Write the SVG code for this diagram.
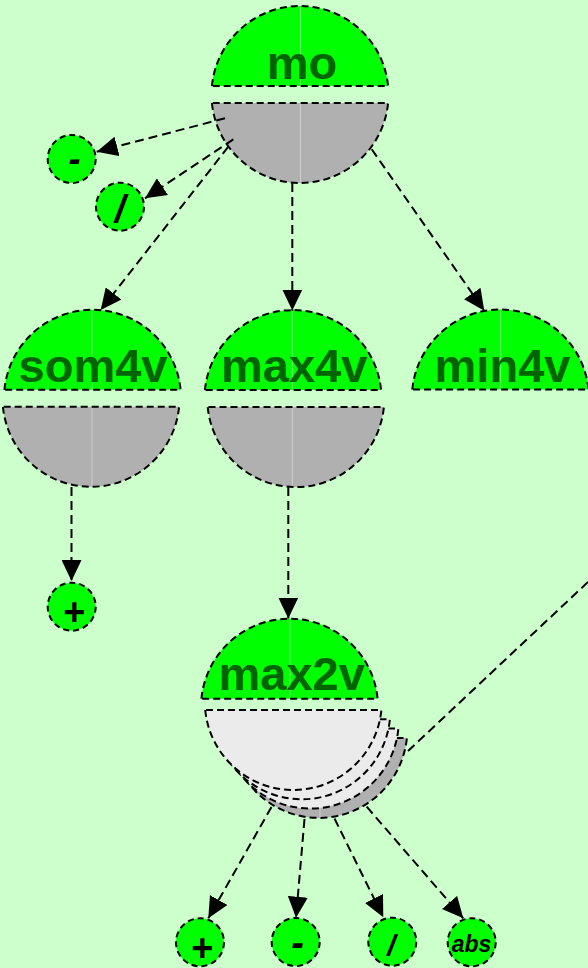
<svg xmlns="http://www.w3.org/2000/svg" width="588" height="968" viewBox="0 0 588 968">
<style>
.top{fill:#00ff00;stroke:#000;stroke-width:2;stroke-dasharray:7,4}
.bot{fill:#b0b0b0;stroke:#000;stroke-width:2;stroke-dasharray:7,4}
.lite{fill:#ebebeb;stroke:#000;stroke-width:2;stroke-dasharray:7,4}
.leaf{fill:#00ff00;stroke:#000;stroke-width:2;stroke-dasharray:6,4}
.seam{stroke:#ffffff;stroke-opacity:0.4;stroke-width:1}
.lbl{font-family:"Liberation Sans",Arial,sans-serif;font-weight:bold;font-size:47px;fill:#006400;text-anchor:middle}
.op{font-family:"Liberation Sans",Arial,sans-serif;font-weight:bold;font-style:italic;fill:#000;text-anchor:middle}
.edge{fill:none;stroke:#000;stroke-width:2;stroke-dasharray:9,5;marker-end:url(#arr)}
.edge2{fill:none;stroke:#000;stroke-width:2;stroke-dasharray:9,5}
</style>
<defs>
<marker id="arr" markerUnits="userSpaceOnUse" markerWidth="21" markerHeight="20" viewBox="0 0 21 20" refX="21" refY="10" orient="auto">
<path d="M0,0 L21,10 L0,20 Z" fill="#000"/>
</marker>
</defs>
<rect width="588" height="968" fill="#ccffcc"/>

<g id="node-mo">
<path class="top" d="M211.91,86 A88.5,88.5 0 0 1 388.09,86 Z"/>
<path class="bot" d="M211.91,103 A88.5,88.5 0 0 0 388.09,103 Z"/>
<line class="seam" x1="300.5" y1="7" x2="300.5" y2="85"/>
<line class="seam" x1="300.5" y1="104" x2="300.5" y2="182"/>
<text class="lbl" x="302" y="79">mo</text>
</g>

<g id="node-som4v">
<path class="top" d="M4.41,389.8 A88.5,88.5 0 0 1 180.59,389.8 Z"/>
<path class="bot" d="M2.91,406.8 A88.5,88.5 0 0 0 179.09,406.8 Z"/>
<line class="seam" x1="92" y1="311" x2="92" y2="389"/>
<line class="seam" x1="92" y1="408" x2="92" y2="486"/>
<text class="lbl" x="93" y="381.7">som4v</text>
</g>

<g id="node-max4v">
<path class="top" d="M204.91,390.1 A88.5,88.5 0 0 1 381.09,390.1 Z"/>
<path class="bot" d="M207.71,407.1 A88.5,88.5 0 0 0 383.89,407.1 Z"/>
<line class="seam" x1="292.3" y1="311" x2="292.3" y2="389"/>
<line class="seam" x1="292.3" y1="408" x2="292.3" y2="486"/>
<text class="lbl" x="294.2" y="381.7">max4v</text>
</g>

<g id="node-min4v">
<path class="top" d="M412.31,389.5 A88.5,88.5 0 0 1 588.49,389.5 Z"/>
<line class="seam" x1="500.7" y1="311" x2="500.7" y2="388.5"/>
<text class="lbl" x="502.5" y="381.7">min4v</text>
</g>

<g id="node-max2v">
<path class="bot" d="M230.71,737.9 A88.5,88.5 0 0 0 406.89,737.9 Z"/>
<line class="seam" x1="320" y1="790" x2="320" y2="817"/>
<path class="lite" d="M222.21,728.6 A88.5,88.5 0 0 0 398.39,728.6 Z"/>
<path class="lite" d="M213.71,719.3 A88.5,88.5 0 0 0 389.89,719.3 Z"/>
<path class="lite" d="M205.21,710 A88.5,88.5 0 0 0 381.39,710 Z"/>
<path class="top" d="M201.41,698.7 A88.5,88.5 0 0 1 377.59,698.7 Z"/>
<line class="seam" x1="290" y1="620" x2="290" y2="697.7"/>
<text class="lbl" x="291.7" y="690">max2v</text>
</g>

<g id="leaf-minus-1">
<circle class="leaf" cx="71.7" cy="159" r="24"/>
<text class="op" x="74.5" y="171" font-size="36">-</text>
</g>
<g id="leaf-div-1">
<circle class="leaf" cx="120" cy="206.7" r="24"/>
<text class="op" x="120" y="221.5" font-size="38">/</text>
</g>
<g id="leaf-plus-1">
<circle class="leaf" cx="71.7" cy="606.7" r="24"/>
<text class="op" x="73.5" y="625" font-size="38">+</text>
</g>
<g id="leaf-plus-2">
<circle class="leaf" cx="200" cy="942.3" r="24"/>
<text class="op" x="201.5" y="960.5" font-size="38">+</text>
</g>
<g id="leaf-minus-2">
<circle class="leaf" cx="295.7" cy="942" r="24"/>
<text class="op" x="297.5" y="956" font-size="38">-</text>
</g>
<g id="leaf-div-2">
<circle class="leaf" cx="392.3" cy="941.7" r="24"/>
<text class="op" x="391.5" y="955.5" font-size="30">/</text>
</g>
<g id="leaf-abs">
<circle class="leaf" cx="471.7" cy="942.3" r="24"/>
<text class="op" x="471.5" y="952" font-size="23">abs</text>
</g>

<g id="connectors">
<line class="edge" x1="225" y1="118.3" x2="96.7" y2="151.7"/>
<line class="edge" x1="233.3" y1="139.3" x2="145" y2="198.3"/>
<line class="edge" x1="228.3" y1="146.7" x2="100.7" y2="310"/>
<line class="edge" x1="292.3" y1="183" x2="292.3" y2="310.5"/>
<line class="edge" x1="371.7" y1="149.3" x2="484.3" y2="310.7"/>
<line class="edge" x1="71.5" y1="487" x2="71.5" y2="581"/>
<line class="edge" x1="288.3" y1="487" x2="288.3" y2="618.5"/>
<line class="edge2" x1="588" y1="582" x2="408" y2="751"/>
<line class="edge" x1="271.5" y1="807" x2="208.3" y2="918.3"/>
<line class="edge" x1="304.5" y1="819" x2="296" y2="917.7"/>
<line class="edge" x1="334.5" y1="818.5" x2="383.3" y2="917.3"/>
<line class="edge" x1="366.7" y1="806.7" x2="463.3" y2="918.3"/>
</g>
</svg>
